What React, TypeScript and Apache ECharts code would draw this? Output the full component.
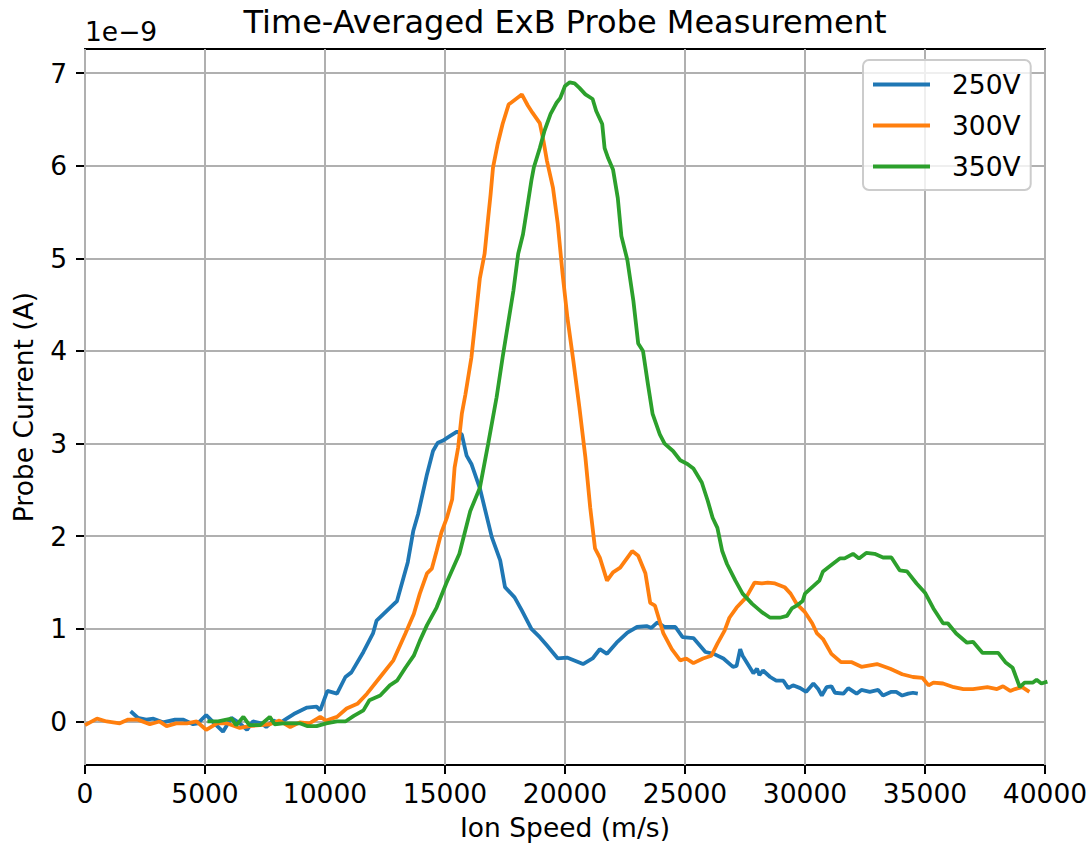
import React, { useEffect, useRef } from "react";
import * as echarts from "echarts";

// Probe current in units of 1e-9 A, sampled against ion speed (m/s).
const series250V: [number, number][] = [
  [1900, 0.11], [2200, 0.04], [2550, 0.02], [2850, 0.03], [3250, -0.01], [3750, 0.02], [4100, 0.02],
  [4500, -0.03], [4700, -0.02], [5050, 0.07], [5350, -0.01], [5750, -0.11], [6100, 0.04], [6450, -0.02],
  [6750, -0.09], [7000, 0.0], [7350, -0.02], [7550, -0.06], [7850, 0.01], [8100, -0.02], [8400, 0.03],
  [8700, 0.08], [9250, 0.15], [9650, 0.16], [9800, 0.12], [10100, 0.33], [10500, 0.3], [10850, 0.48],
  [11100, 0.53], [11600, 0.75], [12000, 0.95], [12150, 1.09], [12800, 1.25], [13000, 1.3], [13450, 1.72],
  [13680, 2.06], [13880, 2.24], [14250, 2.67], [14500, 2.92], [14700, 3.01], [14900, 3.03], [15200, 3.08],
  [15500, 3.13], [15700, 3.1], [15900, 2.87], [16100, 2.78], [16450, 2.52], [16950, 1.99], [17300, 1.74],
  [17500, 1.45], [17900, 1.34], [18200, 1.2], [18600, 1.0], [18950, 0.91], [19250, 0.82], [19700, 0.68],
  [20080, 0.69], [20750, 0.62], [21150, 0.68], [21450, 0.78], [21750, 0.73], [22150, 0.85], [22600, 0.96],
  [23000, 1.02], [23400, 1.03], [23600, 1.01], [23850, 1.07], [24150, 1.02], [24600, 1.02], [24900, 0.91],
  [25350, 0.9], [25850, 0.75], [26200, 0.73], [26600, 0.68], [27000, 0.59], [27150, 0.6], [27300, 0.78],
  [27400, 0.71], [27850, 0.52], [28000, 0.57], [28100, 0.5], [28250, 0.55], [28550, 0.48], [28800, 0.44],
  [29100, 0.44], [29300, 0.36], [29500, 0.39], [29800, 0.36], [30050, 0.32], [30350, 0.41], [30550, 0.35],
  [30700, 0.28], [30900, 0.37], [31100, 0.38], [31250, 0.31], [31600, 0.3], [31800, 0.36], [32150, 0.3],
  [32350, 0.34], [32700, 0.32], [33050, 0.34], [33250, 0.28], [33600, 0.32], [33800, 0.32], [34050, 0.28],
  [34300, 0.3], [34500, 0.31], [34700, 0.3],
];

const series300V: [number, number][] = [
  [0, -0.04], [500, 0.03], [900, 0], [1450, -0.02], [1800, 0.02], [2200, 0.02], [2700, -0.03], [3100, 0],
  [3400, -0.05], [3800, -0.02], [4250, -0.02], [4650, 0], [5050, -0.09], [5500, -0.02], [5900, -0.02],
  [6450, -0.07], [6850, -0.05], [7300, -0.04], [7700, -0.03], [8100, 0.01], [8550, -0.06], [8950, -0.01],
  [9350, -0.02], [9800, 0.05], [10050, 0.01], [10500, 0.05], [10900, 0.14], [11350, 0.19], [11750, 0.3],
  [12300, 0.48], [12850, 0.66], [13350, 0.95], [13700, 1.16], [13950, 1.38], [14250, 1.6], [14450, 1.65],
  [14650, 1.84], [14850, 2.04], [15080, 2.2], [15300, 2.4], [15400, 2.74], [15550, 2.96], [15700, 3.32],
  [15850, 3.53], [16100, 3.93], [16250, 4.29], [16450, 4.78], [16650, 5.05], [16800, 5.44], [16900, 5.69],
  [17000, 5.98], [17200, 6.24], [17400, 6.45], [17650, 6.66], [18200, 6.77], [18450, 6.65], [18650, 6.57],
  [18950, 6.46], [19100, 6.27], [19250, 6.05], [19500, 5.76], [19700, 5.37], [19900, 4.83], [20100, 4.36],
  [20350, 3.89], [20600, 3.39], [20850, 2.85], [21050, 2.31], [21250, 1.87], [21450, 1.77], [21750, 1.52],
  [22000, 1.61], [22300, 1.66], [22800, 1.84], [23050, 1.79], [23350, 1.6], [23550, 1.28], [23750, 1.25],
  [24100, 0.95], [24450, 0.78], [24800, 0.66], [25050, 0.68], [25350, 0.63], [25750, 0.68], [26100, 0.71],
  [26350, 0.84], [26650, 0.98], [26850, 1.12], [27150, 1.23], [27550, 1.34], [27900, 1.5], [28200, 1.49],
  [28450, 1.5], [28750, 1.49], [29150, 1.45], [29400, 1.38], [29650, 1.27], [30000, 1.18], [30300, 1.06],
  [30500, 0.95], [30750, 0.89], [31100, 0.73], [31500, 0.64], [31950, 0.64], [32350, 0.59], [33000, 0.62],
  [33550, 0.57], [34050, 0.51], [34500, 0.48], [34900, 0.47], [35150, 0.39], [35350, 0.42], [35750, 0.41],
  [36200, 0.37], [36600, 0.35], [37000, 0.35], [37600, 0.37], [38000, 0.35], [38250, 0.38], [38550, 0.33],
  [38750, 0.35], [39050, 0.37], [39350, 0.32],
];

const series350V: [number, number][] = [
  [5100, 0], [5550, 0], [5900, 0.02], [6100, 0.03], [6300, -0.04], [6600, 0.05], [6850, -0.04], [7300, -0.04],
  [7700, 0.05], [7900, -0.03], [8250, -0.02], [8650, -0.02], [8950, -0.02], [9250, -0.05], [9650, -0.05],
  [10050, -0.02], [10500, 0], [10850, 0], [11200, 0.06], [11600, 0.12], [11850, 0.23], [12300, 0.28],
  [12700, 0.39], [13000, 0.44], [13350, 0.58], [13700, 0.71], [13950, 0.87], [14250, 1.04], [14650, 1.23],
  [15050, 1.49], [15600, 1.81], [16050, 2.27], [16450, 2.52], [16800, 3.0], [17150, 3.5], [17400, 3.93],
  [17600, 4.25], [17850, 4.65], [18050, 5.05], [18250, 5.26], [18450, 5.59], [18600, 5.84], [18700, 5.98],
  [18950, 6.19], [19150, 6.38], [19400, 6.56], [19650, 6.68], [19800, 6.73], [20000, 6.86], [20200, 6.9],
  [20400, 6.89], [20600, 6.84], [20850, 6.77], [21150, 6.72], [21300, 6.59], [21550, 6.45], [21650, 6.19],
  [21800, 6.08], [22000, 5.96], [22200, 5.65], [22350, 5.24], [22600, 4.98], [22850, 4.54], [23050, 4.08],
  [23250, 4.0], [23450, 3.65], [23650, 3.32], [23950, 3.1], [24150, 3.0], [24500, 2.92], [24800, 2.82],
  [25100, 2.78], [25350, 2.73], [25700, 2.58], [25950, 2.38], [26150, 2.2], [26350, 2.09], [26550, 1.84],
  [26750, 1.7], [27100, 1.52], [27400, 1.38], [27800, 1.27], [28200, 1.18], [28550, 1.12], [28950, 1.12],
  [29250, 1.14], [29450, 1.22], [29650, 1.25], [29900, 1.3], [30000, 1.38], [30300, 1.45], [30600, 1.52],
  [30750, 1.62], [31150, 1.7], [31450, 1.76], [31650, 1.76], [32000, 1.81], [32250, 1.76], [32550, 1.82],
  [32900, 1.81], [33250, 1.77], [33600, 1.77], [33950, 1.63], [34250, 1.62], [34650, 1.49], [35000, 1.39],
  [35350, 1.22], [35750, 1.06], [35950, 1.06], [36300, 0.95], [36750, 0.85], [37000, 0.86], [37400, 0.74],
  [38050, 0.74], [38350, 0.64], [38650, 0.58], [38950, 0.37], [39150, 0.42], [39500, 0.42], [39650, 0.45],
  [39850, 0.41], [40100, 0.43],
];

const seriesNames = ["250V", "300V", "350V"];
const seriesColors = ["#1f77b4", "#ff7f0e", "#2ca02c"];
const xTicks = [0, 5000, 10000, 15000, 20000, 25000, 30000, 35000, 40000];
const yTicks = [0, 1, 2, 3, 4, 5, 6, 7];

const FONT = "DejaVu Sans";
const LABEL_SIZE = 26.5;

export default function App() {
  const ref = useRef<HTMLDivElement>(null);

  useEffect(() => {
    if (!ref.current) return;
    const chart = echarts.init(ref.current, null, { renderer: "svg" });
    const seriesData = [series250V, series300V, series350V];

    const gridLines = [
      ...yTicks.map((v) => ({ yAxis: v })),
      ...xTicks.map((v) => ({ xAxis: v })),
    ];

    chart.setOption({
      animation: false,
      backgroundColor: "#ffffff",
      textStyle: { fontFamily: FONT },
      grid: {
        left: 85,
        top: 49,
        right: 46,
        bottom: 83,
        show: true,
        borderColor: "#000000",
        borderWidth: 2,
        backgroundColor: "transparent",
      },
      xAxis: {
        type: "value",
        min: 0,
        max: 40000,
        interval: 5000,
        name: "Ion Speed (m/s)",
        nameLocation: "middle",
        nameGap: 49,
        nameTextStyle: { fontSize: LABEL_SIZE, color: "#000", fontFamily: FONT },
        axisLine: { show: true, onZero: false, lineStyle: { color: "#000", width: 2 } },
        axisTick: { show: true, length: 9, lineStyle: { color: "#000", width: 2 } },
        axisLabel: {
          fontSize: LABEL_SIZE,
          color: "#000",
          fontFamily: FONT,
          margin: 15,
          formatter: (v: number) => String(v),
        },
        splitLine: { show: false },
      },
      yAxis: {
        type: "value",
        min: -0.47,
        max: 7.26,
        name: "Probe Current (A)",
        nameLocation: "middle",
        nameGap: 48,
        nameTextStyle: { fontSize: LABEL_SIZE, color: "#000", fontFamily: FONT },
        axisLine: { show: true, onZero: false, lineStyle: { color: "#000", width: 2 } },
        axisTick: {
          show: true,
          length: 9,
          customValues: yTicks,
          lineStyle: { color: "#000", width: 2 },
        },
        axisLabel: {
          fontSize: LABEL_SIZE,
          color: "#000",
          fontFamily: FONT,
          margin: 18,
          customValues: yTicks,
          formatter: (v: number) => String(Math.round(v)),
        },
        splitLine: { show: false },
      },
      legend: {
        orient: "vertical",
        left: 863,
        top: 60,
        data: seriesNames,
        icon: "rect",
        itemWidth: 57,
        itemHeight: 3.9,
        itemGap: 14,
        padding: [11, 10, 10, 10],
        backgroundColor: "rgba(255,255,255,0.8)",
        borderColor: "#cccccc",
        borderWidth: 2,
        borderRadius: 6,
        textStyle: {
          fontSize: LABEL_SIZE,
          color: "#000",
          fontFamily: FONT,
          lineHeight: 27,
          padding: [0, 0, 0, 17],
        },
      },
      graphic: [
        {
          type: "text",
          x: 565,
          y: 22,
          style: {
            text: "Time-Averaged ExB Probe Measurement",
            fontSize: 32,
            fontFamily: FONT,
            fill: "#000",
            align: "center",
            verticalAlign: "middle",
            textAlign: "center",
            textVerticalAlign: "middle",
          },
        },
        {
          type: "text",
          x: 85,
          y: 31,
          style: {
            text: "1e\u22129",
            fontSize: LABEL_SIZE,
            fontFamily: FONT,
            fill: "#000",
            align: "left",
            verticalAlign: "middle",
            textAlign: "left",
            textVerticalAlign: "middle",
          },
        },
      ],
      series: [
        {
          type: "line",
          name: "grid",
          data: [],
          z: 1,
          silent: true,
          markLine: {
            silent: true,
            z: 1,
            symbol: ["none", "none"],
            label: { show: false },
            lineStyle: { color: "#b0b0b0", width: 2, type: "solid" },
            emphasis: { disabled: true },
            data: gridLines,
          },
        },
        ...seriesData.map((d, i) => ({
          type: "line",
          name: seriesNames[i],
          data: d,
          z: 2,
          showSymbol: false,
          symbol: "none",
          color: seriesColors[i],
          lineStyle: { color: seriesColors[i], width: 3.8 },
          clip: true,
        })),
      ],
    });

    return () => chart.dispose();
  }, []);

  return (
    <div
      ref={ref}
      style={{ position: "absolute", left: 0, top: 0, width: 1091, height: 848, background: "#fff" }}
    />
  );
}
